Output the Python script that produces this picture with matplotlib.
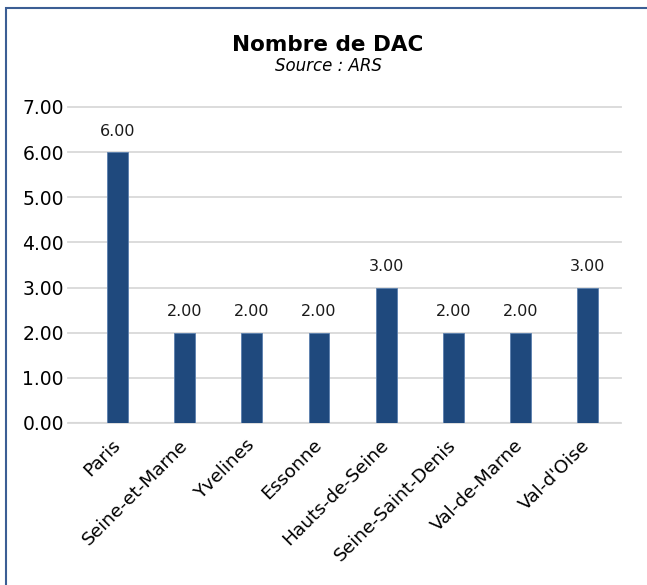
import matplotlib.pyplot as plt
from matplotlib.patches import Rectangle

departements = ['Paris', 'Seine-et-Marne', 'Yvelines', 'Essonne',
                'Hauts-de-Seine', 'Seine-Saint-Denis', 'Val-de-Marne', "Val-d'Oise"]
nb_dac = [6, 2, 2, 2, 3, 2, 2, 3]
yticks = [0, 1, 2, 3, 4, 5, 6, 7]

plt.rcParams['font.family'] = ['DejaVu Sans']

fig = plt.figure(figsize=(6.47, 5.85), dpi=100)
ax = fig.add_axes([68 / 647, 1 - 423 / 585, (621 - 68) / 647, (423 - 107) / 585])

x = range(len(departements))
bars = ax.bar(x, nb_dac, width=0.31, color='#1F497D', edgecolor='#5a7fae',
              linewidth=0.6, zorder=3)
for b, v in zip(bars, nb_dac):
    ax.text(b.get_x() + b.get_width() / 2, v + 0.3, '%.2f' % v,
            ha='center', va='bottom', fontsize=11.5, color='#1a1a1a')

ax.set_xlim(-0.74, len(departements) - 0.5)
ax.set_ylim(0, 7)
ax.set_yticks(yticks)
ax.set_yticklabels(['%.2f' % t for t in yticks], fontsize=13.5)
ax.set_xticks(list(x))
ax.set_xticklabels(departements, rotation=45, ha='right', va='center',
                   rotation_mode='anchor', fontsize=13.3)
ax.tick_params(length=0)
ax.tick_params(axis='y', pad=3)
ax.tick_params(axis='x', pad=14)
ax.grid(axis='y', color='#d9d9d9', linewidth=1.3, zorder=0)
for line in ax.get_ygridlines():
    line.set_clip_on(False)
for s in ax.spines.values():
    s.set_visible(False)
ax.axhline(0, color='#d0d0d0', linewidth=1.5, zorder=1)

fig.text(328 / 647, 1 - 45 / 585, 'Nombre de DAC', ha='center', va='center',
         fontsize=15.5, fontweight='bold')
fig.text(328 / 647, 1 - 66 / 585, 'Source : ARS', ha='center', va='center',
         fontsize=12, style='italic')

# chart frame
fig.patches.append(Rectangle((6 / 647, -0.05), 1.1, 1 - 8 / 585 + 0.05,
                             transform=fig.transFigure, fill=False,
                             edgecolor='#3b5e94', linewidth=1.5))

fig.savefig('out.png', dpi=100)
